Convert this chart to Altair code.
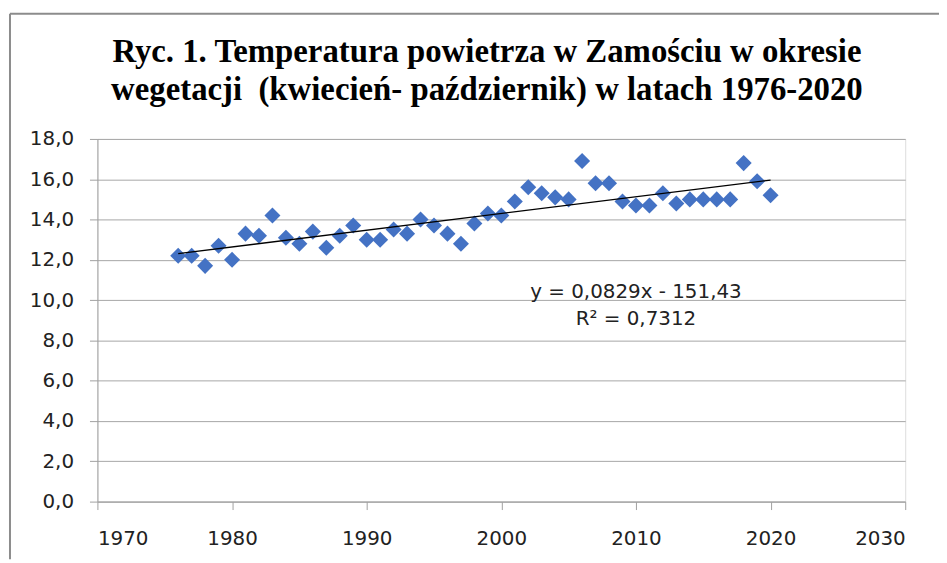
import altair as alt
import pandas as pd

years = list(range(1976, 2021))
temps = [12.2, 12.2, 11.7, 12.7, 12.0, 13.3, 13.2, 14.2, 13.1, 12.8,
         13.4, 12.6, 13.2, 13.7, 13.0, 13.0, 13.5, 13.3, 14.0, 13.7,
         13.3, 12.8, 13.8, 14.3, 14.2, 14.9, 15.6, 15.3, 15.1, 15.0,
         16.9, 15.8, 15.8, 14.9, 14.7, 14.7, 15.3, 14.8, 15.0, 15.0,
         15.0, 15.0, 16.8, 15.9, 15.2]
x_ticks = [1970, 1980, 1990, 2000, 2010, 2020, 2030]
y_ticks = [0, 2, 4, 6, 8, 10, 12, 14, 16, 18]
title_lines = ["Ryc. 1. Temperatura powietrza w Zamościu w okresie",
               "wegetacji \u00a0(kwiecień- październik) w latach 1976-2020"]
eq_lines = ["y = 0,0829x - 151,43", "R² = 0,7312"]

df = pd.DataFrame({"rok": years, "temp": temps})

W, H = 813, 365
PL, PT, PR, PB = 90, 130, 34, 58

xs = alt.Scale(domain=[1970, 2030], nice=False, zero=False)
ys = alt.Scale(domain=[0, 18], nice=False)

xaxis = alt.Axis(values=x_ticks, format="d", title=None, grid=False,
                 domainColor="#a0a0a0", tickColor="#a0a0a0", tickSize=8,
                 labelFont="DejaVu Sans", labelFontSize=20, labelColor="#222",
                 labelPadding=19)
yaxis = alt.Axis(values=y_ticks, title=None, grid=True, gridColor="#a6a6a6",
                 domainColor="#a0a0a0", tickColor="#a0a0a0", tickSize=8,
                 labelFont="DejaVu Sans", labelFontSize=20, labelColor="#222",
                 labelPadding=16,
                 labelExpr="replace(format(datum.value, '.1f'), '.', ',')")

base = alt.Chart(df)

points = base.mark_point(shape="diamond", filled=True, size=260,
                         color="#4472C4", opacity=1).encode(
    x=alt.X("rok:Q", scale=xs, axis=xaxis),
    y=alt.Y("temp:Q", scale=ys, axis=yaxis),
)

trend = base.transform_regression("rok", "temp", extent=[1976, 2020]).mark_line(
    color="black", strokeWidth=1.3).encode(
    x=alt.X("rok:Q", scale=xs),
    y=alt.Y("temp:Q", scale=ys),
)

one = pd.DataFrame({"a": [0]})
eq = alt.Chart(one).mark_text(text=eq_lines, font="DejaVu Sans", fontSize=20,
                              color="#222", align="center", baseline="alphabetic",
                              lineHeight=27).encode(
    x=alt.value(542), y=alt.value(160))

title = alt.Chart(one).mark_text(text=title_lines, font="Liberation Serif",
                                 fontSize=33, fontWeight="bold", color="black",
                                 align="center", baseline="alphabetic",
                                 lineHeight=38).encode(
    x=alt.value(392), y=alt.value(-77))

border_left = alt.Chart(one).mark_rule(color="#8c8c8c", strokeWidth=2).encode(
    x=alt.value(-88), y=alt.value(-126), y2=alt.value(H + PB))
border_top = alt.Chart(one).mark_rule(color="#8c8c8c", strokeWidth=2).encode(
    x=alt.value(-88), x2=alt.value(W + PR), y=alt.value(-126))

chart = alt.layer(points, trend, eq, title, border_left, border_top).properties(
    width=W, height=H,
    padding={"left": PL, "top": PT, "right": PR, "bottom": PB},
    autosize=alt.AutoSizeParams(type="none"),
).configure_view(stroke=None).configure(background="white")

chart.save("out.html", embed_options={"renderer": "svg", "actions": False})
